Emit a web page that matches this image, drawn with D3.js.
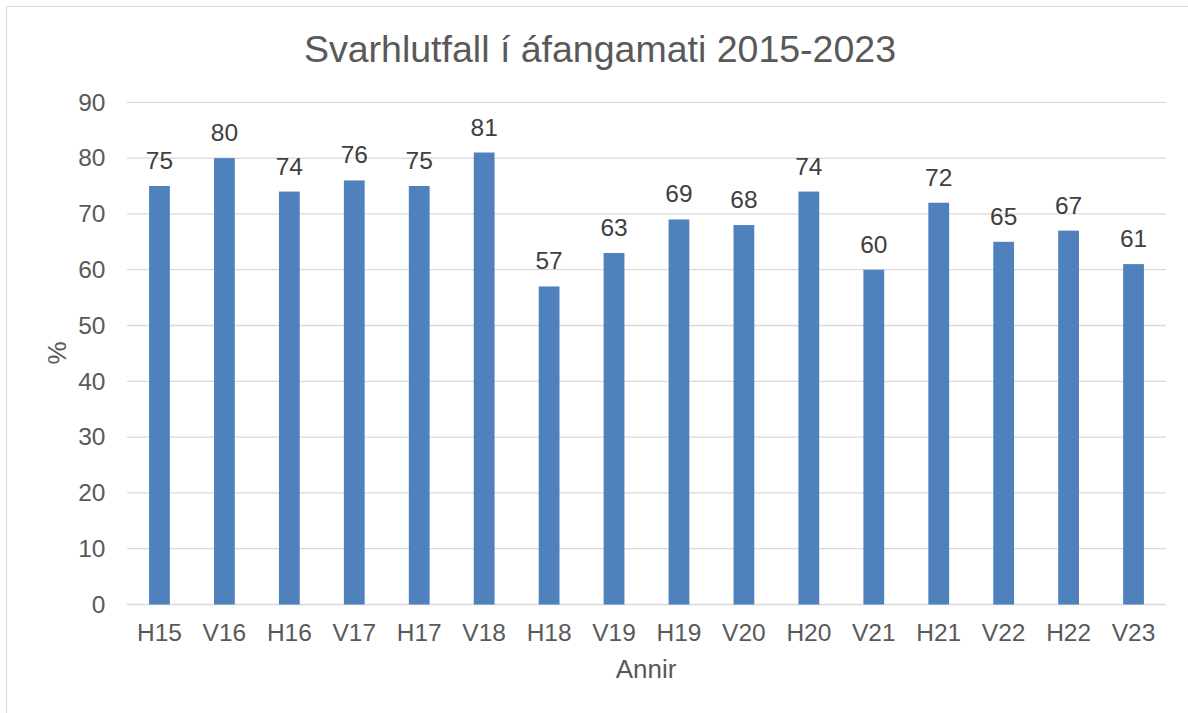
<!DOCTYPE html>
<html>
<head>
<meta charset="utf-8">
<script src="https://cdn.jsdelivr.net/npm/d3@7"></script>
<style>
  html, body { margin: 0; padding: 0; background: #fff; }
  svg { display: block; }
  text { font-family: "Liberation Sans", Arial, sans-serif; }
</style>
</head>
<body>
<div id="chart"></div>
<script>
const categories = ["H15","V16","H16","V17","H17","V18","H18","V19","H19","V20","H20","V21","H21","V22","H22","V23"];
const values = [75, 80, 74, 76, 75, 81, 57, 63, 69, 68, 74, 60, 72, 65, 67, 61];
const yTicks = [0, 10, 20, 30, 40, 50, 60, 70, 80, 90];
const titleText = "Svarhlutfall í áfangamati 2015-2023";
const xTitle = "Annir";
const yTitle = "%";

const W = 1188, H = 713;
const plot = { left: 127, right: 1166, top: 102.3, bottom: 604.5 };
const tickFont = 24.5;

const svg = d3.select("#chart").append("svg").attr("width", W).attr("height", H);

// chart border
svg.append("rect").attr("x", 6.5).attr("y", 6.5).attr("width", W).attr("height", H)
  .attr("fill", "#fff").attr("stroke", "#d9d9d9").attr("stroke-width", 1);

const x = d3.scaleBand().domain(categories).range([plot.left, plot.right]).paddingInner(0.68).paddingOuter(0.34);
const y = d3.scaleLinear().domain([0, 90]).range([plot.bottom, plot.top]);

// gridlines
svg.append("g").selectAll("line").data(yTicks).join("line")
  .attr("x1", plot.left).attr("x2", plot.right)
  .attr("y1", d => y(d)).attr("y2", d => y(d))
  .attr("stroke", "#d9d9d9").attr("stroke-width", 1.3);

// y axis labels
const yAxis = d3.axisLeft(y).tickValues(yTicks).tickSize(0).tickPadding(0);
const yg = svg.append("g").attr("transform", `translate(${105.5},0)`).call(yAxis);
yg.select(".domain").remove();
yg.selectAll("text").attr("font-size", tickFont).attr("fill", "#595959")
  .attr("font-family", "Liberation Sans, Arial, sans-serif");

// bars
svg.append("g").selectAll("rect").data(values).join("rect")
  .attr("x", (d, i) => x(categories[i]))
  .attr("width", x.bandwidth())
  .attr("y", d => y(d))
  .attr("height", d => y(0) - y(d))
  .attr("fill", "#4f81bd");

// data labels
svg.append("g").selectAll("text").data(values).join("text")
  .attr("x", (d, i) => x(categories[i]) + x.bandwidth() / 2)
  .attr("y", d => y(d) - 17)
  .attr("text-anchor", "middle")
  .attr("font-size", tickFont).attr("fill", "#404040")
  .text(d => d);

// x axis labels
const xAxis = d3.axisBottom(x).tickSize(0).tickPadding(0);
const xg = svg.append("g").attr("transform", `translate(0,${641})`).call(xAxis);
xg.select(".domain").remove();
xg.selectAll("text").attr("font-size", tickFont).attr("fill", "#595959").attr("dy", 0)
  .attr("font-family", "Liberation Sans, Arial, sans-serif");

// title
svg.append("text").attr("x", 600).attr("y", 62)
  .attr("text-anchor", "middle").attr("font-size", 37.5).attr("fill", "#595959")
  .text(titleText);

// axis titles
svg.append("text").attr("x", 646).attr("y", 678).attr("text-anchor", "middle")
  .attr("font-size", 26).attr("fill", "#595959").text(xTitle);
svg.append("text").attr("transform", `translate(${66},${353}) rotate(-90)`)
  .attr("text-anchor", "middle").attr("font-size", 26).attr("fill", "#595959").text(yTitle);
</script>
</body>
</html>
